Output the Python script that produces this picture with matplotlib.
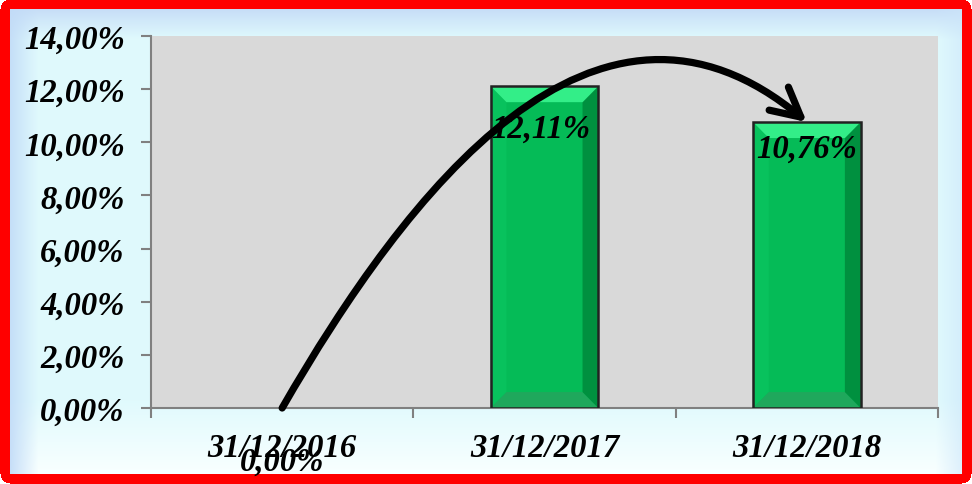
import numpy as np
import matplotlib
matplotlib.use("Agg")
import matplotlib.pyplot as plt
from matplotlib.patches import Polygon, FancyArrowPatch
from matplotlib.path import Path

categories = ["31/12/2016", "31/12/2017", "31/12/2018"]
values = [0.00, 12.11, 10.76]
value_labels = ["0,00%", "12,11%", "10,76%"]
ytick_values = [0, 2, 4, 6, 8, 10, 12, 14]
ytick_labels = ["0,00%", "2,00%", "4,00%", "6,00%", "8,00%", "10,00%", "12,00%", "14,00%"]

W, H, DPI = 972, 485, 100
fig = plt.figure(figsize=(W / DPI, H / DPI), dpi=DPI)

# ---- background: light cyan panel with bevel and red rounded border ----
yy, xx = np.mgrid[0:H, 0:W].astype(float)
base = np.array([0.878, 0.980, 0.992])
img = np.ones((H, W, 3)) * base
t = np.clip((yy - 400) / 70, 0, 1)[..., None]
img = img * (1 - t) + np.array([0.97, 1.0, 1.0]) * t
t = np.clip(1 - (yy - 10) / 30, 0, 1)[..., None]
img = img * (1 - t) + np.array([0.78, 0.87, 0.97]) * t
t = np.clip(1 - (xx - 10) / 28, 0, 1)[..., None] * 0.9
img = img * (1 - t) + np.array([0.76, 0.86, 0.97]) * t
t = np.clip((xx - 935) / 27, 0, 1)[..., None] * 0.6
img = img * (1 - t) + np.array([0.80, 0.90, 0.98]) * t
bw = 10
red = (xx < bw) | (xx >= W - bw) | (yy < bw) | (yy >= H - bw)
img[red] = [1.0, 0.0, 0.0]
r = 10
for cx, cy in [(r, r), (W - 1 - r, r), (r, H - 1 - r), (W - 1 - r, H - 1 - r)]:
    m = ((((xx < r) & (cx == r)) | ((xx > W - 1 - r) & (cx != r)))
         & (((yy < r) & (cy == r)) | ((yy > H - 1 - r) & (cy != r)))
         & ((xx - cx) ** 2 + (yy - cy) ** 2 > r ** 2))
    img[m] = [1.0, 1.0, 1.0]
fig.figimage(img, xo=0, yo=0, origin="upper", zorder=0)

# ---- axes ----
ax = fig.add_axes([151 / W, 1 - 409 / H, (938 - 151) / W, (409 - 37) / H])
ax.set_facecolor("#D9D9D9")
ax.set_zorder(1)

x = np.arange(len(categories))
bar_w = 0.41
ax.bar(x, values, width=bar_w, color="#05BB57", edgecolor="none", zorder=2)

dx, dy = 0.06, 0.60
for xi, h in zip(x, values):
    if h <= 0:
        continue
    x0, x1 = xi - bar_w / 2, xi + bar_w / 2
    polys = [
        ([(x0, 0), (x0, h), (x0 + dx, h - dy), (x0 + dx, dy)], "#08C25D"),
        ([(x0, 0), (x1, 0), (x1 - dx, dy), (x0 + dx, dy)], "#1FA85C"),
        ([(x1, h), (x1, 0), (x1 - dx, dy), (x1 - dx, h - dy)], "#00903F"),
        ([(x0, h), (x1, h), (x1 - dx, h - dy), (x0 + dx, h - dy)], "#33EE88"),
    ]
    for pts, c in polys:
        ax.add_patch(Polygon(pts, closed=True, facecolor=c, edgecolor="none", zorder=3))
edge_lw = [1.8 if v > 0 else 0 for v in values]
ax.bar(x, values, width=bar_w, fill=False, edgecolor="#222222", linewidth=edge_lw, zorder=4)

ax.set_xlim(-0.5, 2.5)
ax.set_ylim(0, 14)

font = dict(family="Liberation Serif", weight="bold", style="italic")
fs = 23.5

ax.set_yticks(ytick_values)
ax.set_yticklabels(ytick_labels, fontsize=fs, **font)
ax.set_xticks(x)
ax.set_xticklabels(categories, fontsize=fs, **font)
ax.tick_params(axis="x", length=0, pad=17)
ax.tick_params(axis="y", length=7, width=1.5, color="#808080", pad=12)
ax.set_xticks([-0.5, 0.5, 1.5, 2.5], minor=True)
ax.tick_params(axis="x", which="minor", length=7, width=1.5, color="#808080")

for s in ["top", "right"]:
    ax.spines[s].set_visible(False)
for s in ["left", "bottom"]:
    ax.spines[s].set_color("#808080")
    ax.spines[s].set_linewidth(1.5)

# ---- curved arrow from first to last value ----
P0 = (x[0], values[0])
P1 = (0.476, 8.15)
P2 = (1.196, 17.4)
P3 = (x[2], values[2])
path = Path([P0, P1, P2, P3], [Path.MOVETO, Path.CURVE4, Path.CURVE4, Path.CURVE4])
arrow = FancyArrowPatch(path=path, arrowstyle="->,head_length=1.15,head_width=0.6",
                        mutation_scale=18, lw=5.2, color="black", shrinkA=0, shrinkB=0,
                        capstyle="round", joinstyle="round", zorder=5, clip_on=False)
ax.add_patch(arrow)

# ---- data labels ----
offsets = [(0, -38), (-3, -30), (0, -19)]
for xi, v, lab, off in zip(x, values, value_labels, offsets):
    ax.annotate(lab, (xi, v), xytext=off, textcoords="offset points",
                ha="center", va="center", fontsize=fs, color="black",
                zorder=6, annotation_clip=False, **font)

fig.savefig("out.png", dpi=DPI)
